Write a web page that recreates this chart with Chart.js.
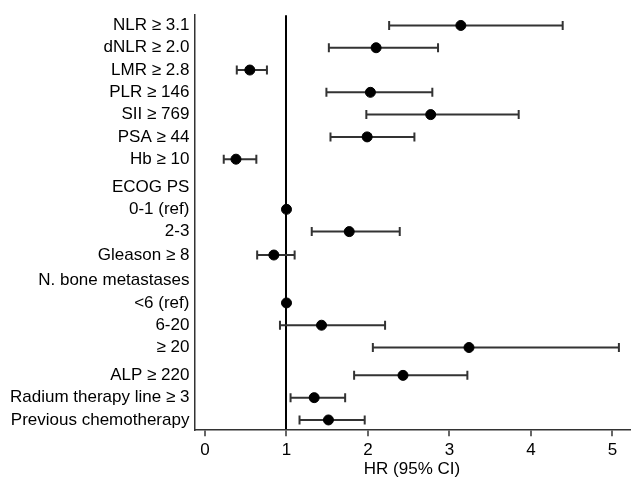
<!DOCTYPE html>
<html>
<head>
<meta charset="utf-8">
<script src="https://cdn.jsdelivr.net/npm/chart.js@4"></script>
<style>
  html, body { margin: 0; background: #fff; overflow: hidden; }
</style>
</head>
<body>
<canvas id="myChart" width="636" height="480"></canvas>
<script>
// rows, top to bottom
var labels = ['NLR \u2265 3.1', 'dNLR \u2265 2.0', 'LMR \u2265 2.8', 'PLR \u2265 146', 'SII \u2265 769',
  'PSA \u2265 44', 'Hb \u2265 10', 'ECOG PS', '0-1 (ref)', '2-3', 'Gleason \u2265 8',
  'N. bone metastases', '<6 (ref)', '6-20', '\u2265 20', 'ALP \u2265 220',
  'Radium therapy line \u2265 3', 'Previous chemotherapy'];
// row slot of each label (headers get a little extra room)
var rowPos = [0, 1, 2, 3, 4, 5, 6, 7.25, 8.25, 9.25, 10.3, 11.45, 12.45, 13.45, 14.45, 15.7, 16.7, 17.7];

// hazard ratios and 95% CI (null = heading row / no CI)
var hr    = [3.14, 2.10, 0.55, 2.03, 2.77, 1.99, 0.38, null, 1.00, 1.77, 0.845, null, 1.00, 1.43, 3.24, 2.43, 1.34, 1.515];
var ciLow = [2.26, 1.52, 0.39, 1.49, 1.98, 1.54, 0.23, null, null, 1.31, 0.64, null, null, 0.92, 2.06, 1.83, 1.05, 1.16];
var ciHigh= [4.39, 2.86, 0.76, 2.79, 3.85, 2.57, 0.63, null, null, 2.39, 1.10, null, null, 2.21, 5.08, 3.22, 1.72, 1.96];

var xTicks = [0, 1, 2, 3, 4, 5];
var refLine = 1;

var pointData = [];
var ciData = [];
for (let i = 0; i < labels.length; i++) {
  if (hr[i] != null) pointData.push({x: hr[i], y: rowPos[i]});
  if (ciLow[i] != null) {
    ciData.push({x: ciLow[i], y: rowPos[i]});
    ciData.push({x: ciHigh[i], y: rowPos[i]});
    ciData.push({x: ciHigh[i], y: null});
  }
}

var fontFam = "'Liberation Sans', Arial, sans-serif";

var ctx = document.getElementById('myChart');
var forest = new Chart(ctx, {
  type: 'scatter',
  data: {
    datasets: [{
      label: 'HR',
      data: pointData,
      backgroundColor: '#000',
      borderColor: '#000',
      pointRadius: 5,
      pointHoverRadius: 5,
      order: 1
    }, {
      label: 'CI',
      type: 'line',
      data: ciData,
      showLine: true,
      spanGaps: false,
      borderColor: '#333',
      borderWidth: 2,
      pointStyle: 'line',
      rotation: 90,
      pointRadius: 4.5,
      pointBorderWidth: 2,
      pointBorderColor: '#333',
      order: 2
    }]
  },
  options: {
    responsive: false,
    animation: false,
    layout: { padding: { top: 11, right: 0, left: 5, bottom: 0 } },
    plugins: { legend: { display: false }, tooltip: { enabled: false } },
    scales: {
      x: {
        type: 'linear',
        min: -0.13,
        max: 5.21,
        afterBuildTicks: function(axis) {
          axis.ticks = xTicks.map(v => ({value: v}));
        },
        ticks: {
          color: '#000',
          font: { family: fontFam, size: 17 },
          padding: 4
        },
        grid: {
          drawOnChartArea: true,
          drawTicks: true,
          tickLength: 6,
          tickColor: '#333',
          tickWidth: 1.5,
          color: function(c) { return (c.tick && c.tick.value === refLine) ? '#000' : 'rgba(0,0,0,0)'; },
          lineWidth: 2
        },
        border: { display: true, color: '#333', width: 1.5 },
        title: {
          display: true,
          text: 'HR (95% CI)',
          color: '#000',
          font: { family: fontFam, size: 17 },
          padding: { top: -5, bottom: 0 }
        }
      },
      y: {
        type: 'linear',
        reverse: true,
        min: -0.46,
        max: 18.16,
        afterBuildTicks: function(axis) {
          axis.ticks = rowPos.map(v => ({value: v}));
        },
        ticks: {
          autoSkip: false,
          color: '#000',
          font: { family: fontFam, size: 17 },
          padding: 5,
          callback: function(value, index) { return labels[index]; }
        },
        grid: { display: false, drawTicks: false },
        border: { display: true, color: '#333', width: 1.5 }
      }
    }
  }
});
</script>
</body>
</html>
